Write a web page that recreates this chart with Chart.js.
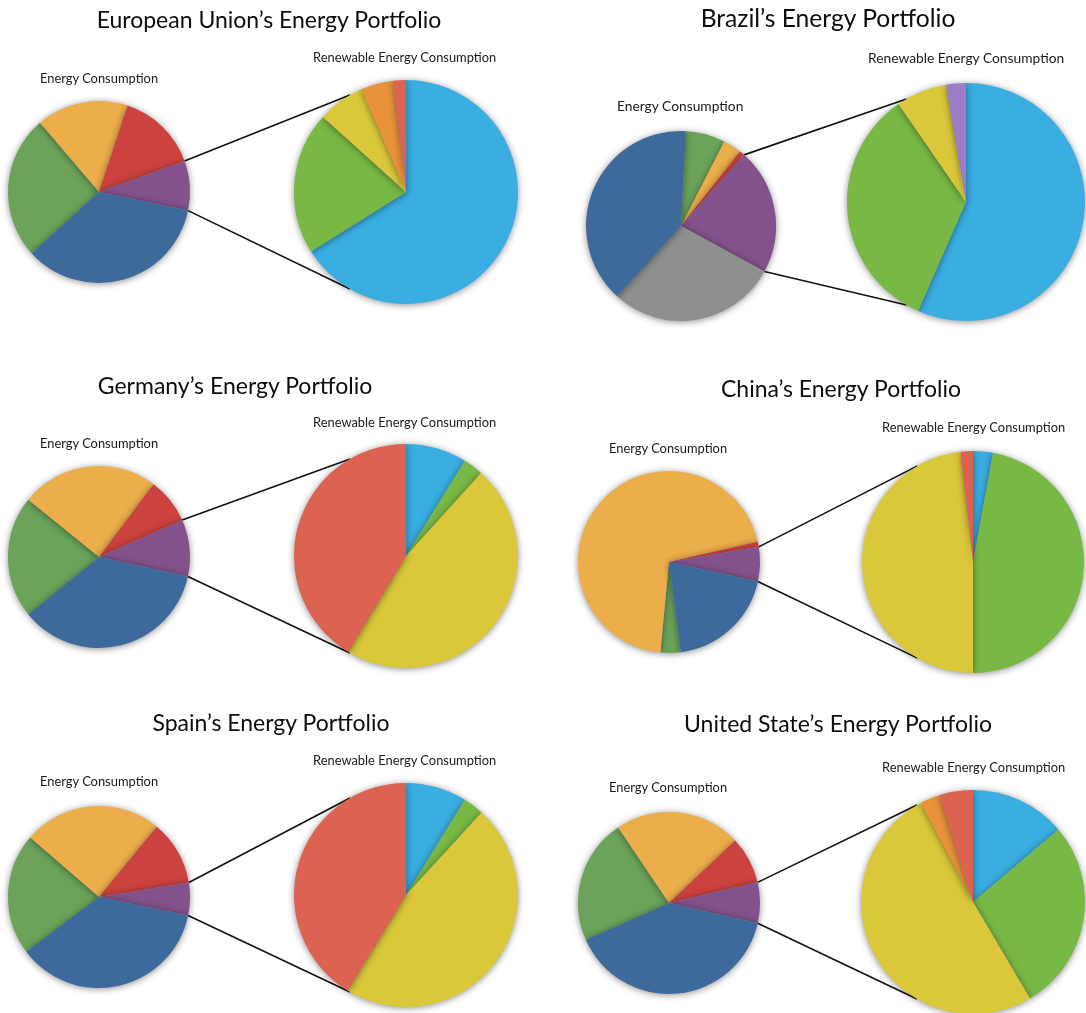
<!DOCTYPE html>
<html>
<head>
<meta charset="utf-8">
<script src="https://cdn.jsdelivr.net/npm/chart.js@4.4.1/dist/chart.umd.min.js"></script>
<style>
  html, body { margin: 0; padding: 0; background: #ffffff; }
  body { position: relative; width: 1086px; height: 1013px; overflow: hidden;
         font-family: Lato, "Open Sans", "Noto Sans", sans-serif; color: #111; }
  canvas { position: absolute; }
  .title { position: absolute; white-space: nowrap; font-size: 23px; transform: translate(-50%, -50%); color: #0d0d0d; }
  .sub { position: absolute; white-space: nowrap; font-size: 12.9px; transform: translateY(-50%); color: #1a1a1a; }
</style>
</head>
<body>
<canvas id="links" width="1086" height="1013" style="left:0;top:0"></canvas>
<script>
// Primary energy mix (share of total consumption, %)
const mixLabels = ['Natural Gas', 'Coal', 'Nuclear', 'Renewables', 'Hydroelectric', 'Oil'];
const euMix      = [25.5, 16.3, 14.4,  8.8,  0.0, 35.0];
const brazilMix  = [ 6.7,  3.1,  0.9, 21.4, 28.8, 39.1];
const germanyMix = [21.7, 24.4,  8.1, 10.1,  0.0, 35.7];
const chinaMix   = [ 3.6, 70.0,  0.9,  6.1,  0.0, 19.5];
const spainMix   = [21.6, 24.6, 11.5,  5.8,  0.0, 36.5];
const usMix      = [22.2, 22.4,  8.4,  7.2,  0.0, 39.8];

// Breakdown of the renewable share (%)
const renewLabels = ['Wind', 'Hydropower', 'Biomass', 'Geothermal', 'Solar', 'Biofuels'];
const euRenew      = [66.1, 20.6,  6.8, 4.7,  1.8, 0.0];
const brazilRenew  = [56.6, 33.8,  6.9, 0.0,  0.0, 2.7];
const germanyRenew = [ 8.8,  2.9, 46.9, 0.0, 41.4, 0.0];
const chinaRenew   = [ 2.9, 47.1, 48.2, 0.0,  1.8, 0.0];
const spainRenew   = [ 8.8,  3.0, 46.9, 0.0, 41.3, 0.0];
const usRenew      = [13.8, 27.7, 50.8, 2.9,  4.8, 0.0];

const titles = [
  'European Union’s Energy Portfolio',
  'Brazil’s Energy Portfolio',
  'Germany’s Energy Portfolio',
  'China’s Energy Portfolio',
  'Spain’s Energy Portfolio',
  'United State’s Energy Portfolio'
];
const mixSeries   = [euMix, brazilMix, germanyMix, chinaMix, spainMix, usMix];
const renewSeries = [euRenew, brazilRenew, germanyRenew, chinaRenew, spainRenew, usRenew];

const mixColors   = ['#6ba35b', '#ecad4b', '#cb423e', '#83518b', '#8e908f', '#3d6a9b'];
const renewColors = ['#3aade1', '#78b845', '#dac83a', '#e8923a', '#dc6352', '#9d7dc8'];
const RENEWABLE_INDEX = 3;

// Page layout: title centre, label anchors, pie centres/radii, start angle of the mix pie, text scale
const layout = [
  { t: [269, 19],  e: [40, 78],   r: [313, 57],  small: [99, 192, 91],  big: [406, 192, 112], rot: 227.8, fs: 1.0 },
  { t: [828, 17],  e: [617, 105], r: [868, 57],  small: [681, 226, 95], big: [966, 202, 119], rot: 3.0,   fs: 1.07 },
  { t: [235, 385], e: [40, 443],  r: [313, 422], small: [99, 557, 91],  big: [406, 556, 112], rot: 230.9, fs: 1.0 },
  { t: [841, 388], e: [609, 448], r: [882, 427], small: [669, 562, 91], big: [973, 562, 111], rot: 172.5, fs: 1.0 },
  { t: [271, 722], e: [40, 781],  r: [313, 760], small: [99, 897, 91],  big: [406, 895, 112], rot: 233.1, fs: 1.0 },
  { t: [838, 723], e: [609, 787], r: [882, 767], small: [669, 903, 91], big: [973, 902, 112], rot: 246.1, fs: 1.0 }
];

// Soft drop shadow under every slice, giving the bevelled look between wedges
const shade = {
  id: 'shade',
  beforeDatasetsDraw(chart, args, opts) {
    const c = chart.ctx;
    c.save();
    c.shadowColor = opts.color;
    c.shadowBlur = opts.blur;
    c.shadowOffsetX = 0;
    c.shadowOffsetY = opts.dy;
  },
  afterDatasetsDraw(chart) { chart.ctx.restore(); }
};
Chart.register(shade);

function addText(cls, txt, x, y, scale) {
  const d = document.createElement('div');
  d.className = cls;
  d.textContent = txt;
  d.style.left = x + 'px';
  d.style.top = y + 'px';
  if (scale !== 1) d.style.fontSize = (cls === 'title' ? 23 : 12.9) * scale + 'px';
  document.body.appendChild(d);
}

function makePie(cx, cy, r, labels, data, colors, rotation) {
  const pad = 14;
  const size = 2 * (r + pad);
  const cv = document.createElement('canvas');
  cv.width = size; cv.height = size;
  cv.style.width = size + 'px'; cv.style.height = size + 'px';
  cv.style.left = (cx - r - pad) + 'px';
  cv.style.top = (cy - r - pad) + 'px';
  document.body.appendChild(cv);
  const chart = new Chart(cv, {
    type: 'pie',
    data: { labels, datasets: [{ data, backgroundColor: colors, borderWidth: 0 }] },
    options: {
      responsive: false,
      animation: false,
      events: [],
      rotation,
      radius: r,
      layout: { padding: pad },
      plugins: {
        legend: { display: false },
        tooltip: { enabled: false },
        shade: { color: 'rgba(0,0,0,0.45)', blur: 7, dy: 1 }
      }
    }
  });
  return { chart, left: cx - r - pad, top: cy - r - pad };
}

const links = document.getElementById('links').getContext('2d');
links.strokeStyle = '#111';
links.lineWidth = 1.6;
const SPREAD = 60 * Math.PI / 180;

layout.forEach((p, i) => {
  addText('title', titles[i], p.t[0], p.t[1], p.fs);
  addText('sub', 'Energy Consumption', p.e[0], p.e[1], p.fs);
  addText('sub', 'Renewable Energy Consumption', p.r[0], p.r[1], p.fs);

  const small = makePie(p.small[0], p.small[1], p.small[2], mixLabels, mixSeries[i], mixColors, p.rot);
  const big = makePie(p.big[0], p.big[1], p.big[2], renewLabels, renewSeries[i], renewColors, 0);

  // Connectors from the renewable wedge to the enlarged pie
  const arc = small.chart.getDatasetMeta(0).data[RENEWABLE_INDEX];
  const bArc = big.chart.getDatasetMeta(0).data[0];
  const sx = small.left + arc.x, sy = small.top + arc.y, sr = arc.outerRadius;
  const bx = big.left + bArc.x, by = big.top + bArc.y, br = bArc.outerRadius;
  const ends = [
    [arc.startAngle, Math.PI + SPREAD],
    [arc.endAngle, Math.PI - SPREAD]
  ];
  ends.forEach(([a, b]) => {
    links.beginPath();
    links.moveTo(sx + sr * Math.cos(a), sy + sr * Math.sin(a));
    links.lineTo(bx + br * Math.cos(b), by + br * Math.sin(b));
    links.stroke();
  });
});
</script>
</body>
</html>
